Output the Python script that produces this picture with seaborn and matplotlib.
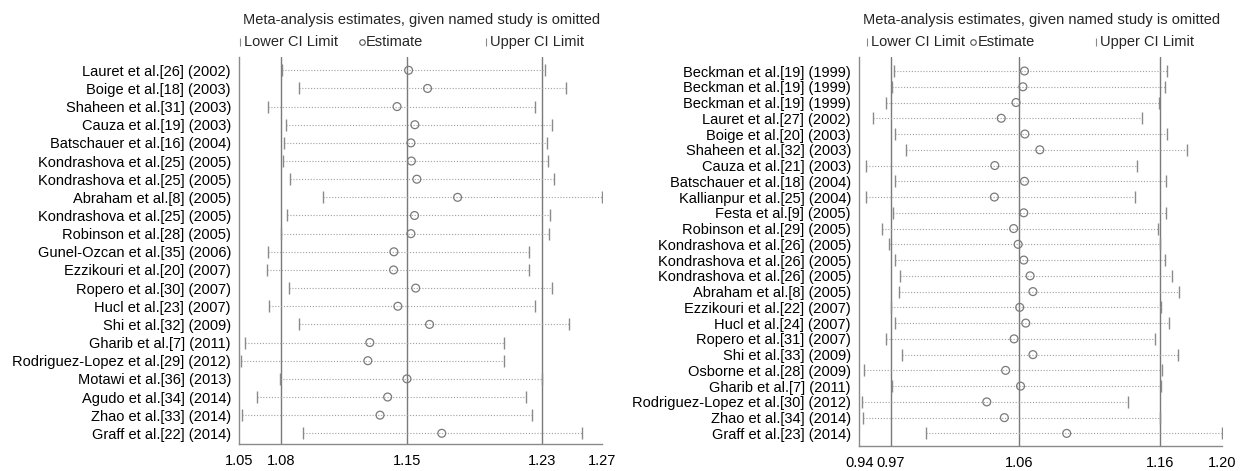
import numpy as np
import pandas as pd
import matplotlib
matplotlib.use("Agg")
import matplotlib.pyplot as plt
import seaborn as sns

# left panel: studies and influence estimates
left_labels = ["Lauret et al.[26] (2002)", "Boige et al.[18] (2003)", "Shaheen et al.[31] (2003)",
               "Cauza et al.[19] (2003)", "Batschauer et al.[16] (2004)", "Kondrashova et al.[25] (2005)",
               "Kondrashova et al.[25] (2005)", "Abraham et al.[8] (2005)", "Kondrashova et al.[25] (2005)",
               "Robinson et al.[28] (2005)", "Gunel-Ozcan et al.[35] (2006)", "Ezzikouri et al.[20] (2007)",
               "Ropero et al.[30] (2007)", "Hucl et al.[23] (2007)", "Shi et al.[32] (2009)",
               "Gharib et al.[7] (2011)", "Rodriguez-Lopez et al.[29] (2012)", "Motawi et al.[36] (2013)",
               "Agudo et al.[34] (2014)", "Zhao et al.[33] (2014)", "Graff et al.[22] (2014)"]
left_lower = [1.0806, 1.0914, 1.0723, 1.0835, 1.0818, 1.0816, 1.0859, 1.1056, 1.0840, 1.0804, 1.0725,
              1.0718, 1.0850, 1.0732, 1.0914, 1.0586, 1.0560, 1.0799, 1.0660, 1.0567, 1.0938]
left_est = [1.1576, 1.1691, 1.1506, 1.1614, 1.1590, 1.1593, 1.1626, 1.1873, 1.1612, 1.1590, 1.1487,
            1.1485, 1.1619, 1.1511, 1.1703, 1.1341, 1.1329, 1.1566, 1.1449, 1.1403, 1.1777]
left_upper = [1.2403, 1.2528, 1.2345, 1.2448, 1.2412, 1.2422, 1.2456, 1.2750, 1.2434, 1.2427, 1.2305,
              1.2305, 1.2446, 1.2343, 1.2547, 1.2156, 1.2156, 1.2384, 1.2288, 1.2326, 1.2626]
left_ticks = [1.055, 1.0802, 1.1569, 1.2386, 1.275]
left_ticklabels = ["1.05", "1.08", "1.15", "1.23", "1.27"]

# right panel
right_labels = ["Beckman et al.[19] (1999)", "Beckman et al.[19] (1999)", "Beckman et al.[19] (1999)",
                "Lauret et al.[27] (2002)", "Boige et al.[20] (2003)", "Shaheen et al.[32] (2003)",
                "Cauza et al.[21] (2003)", "Batschauer et al.[18] (2004)", "Kallianpur et al.[25] (2004)",
                "Festa et al.[9] (2005)", "Robinson et al.[29] (2005)", "Kondrashova et al.[26] (2005)",
                "Kondrashova et al.[26] (2005)", "Kondrashova et al.[26] (2005)", "Abraham et al.[8] (2005)",
                "Ezzikouri et al.[22] (2007)", "Hucl et al.[24] (2007)", "Ropero et al.[31] (2007)",
                "Shi et al.[33] (2009)", "Osborne et al.[28] (2009)", "Gharib et al.[7] (2011)",
                "Rodriguez-Lopez et al.[30] (2012)", "Zhao et al.[34] (2014)", "Graff et al.[23] (2014)"]
right_lower = [0.9729, 0.9714, 0.9669, 0.9580, 0.9737, 0.9814, 0.9526, 0.9731, 0.9531, 0.9720, 0.9643, 0.9691,
               0.9731, 0.9771, 0.9763, 0.9706, 0.9731, 0.9669, 0.9780, 0.9511, 0.9709, 0.9500, 0.9506, 0.9954]
right_est = [1.0654, 1.0643, 1.0594, 1.0489, 1.0657, 1.0763, 1.0443, 1.0654, 1.0440, 1.0649, 1.0577, 1.0609,
             1.0649, 1.0694, 1.0714, 1.0620, 1.0663, 1.0580, 1.0714, 1.0520, 1.0626, 1.0386, 1.0511, 1.0954]
right_upper = [1.1668, 1.1654, 1.1611, 1.1486, 1.1666, 1.1808, 1.1451, 1.1657, 1.1437, 1.1660, 1.1600, 1.1614,
               1.1654, 1.1706, 1.1754, 1.1623, 1.1680, 1.1580, 1.1743, 1.1631, 1.1623, 1.1388, 1.1620, 1.2060]
right_ticks = [0.948, 0.9703, 1.0617, 1.1619, 1.206]
right_ticklabels = ["0.94", "0.97", "1.06", "1.16", "1.20"]

title_txt = "Meta-analysis estimates, given named study is omitted"

sns.set_style("white")
plt.rcParams['font.family'] = ['Liberation Sans', 'DejaVu Sans']

W, H = 1250, 471
fig = plt.figure(figsize=(12.5, 4.71), dpi=100)

AX_COL = '#8a8a8a'
REF_COL = '#7a7a7a'
DOT_COL = '#a0a0a0'
FS = 10.5


def px_ax(x0, y_top, x1, y_bot):
    return fig.add_axes([x0 / W, 1 - y_bot / H, (x1 - x0) / W, (y_bot - y_top) / H])


def panel(ax, labels, lower, est, upper, ticks, ticklabels, pad_top, pad_bot):
    n = len(labels)
    df = pd.DataFrame({'pos': np.arange(n), 'lower': lower, 'est': est, 'upper': upper})
    for v in ticks[1:4]:
        ax.axvline(v, color=REF_COL, lw=1, zorder=1)
    ax.hlines(df['pos'], df['lower'], df['upper'], colors=DOT_COL,
              linestyles=(0, (1, 1.6)), linewidth=0.8, zorder=2)
    ax.plot(df['lower'], df['pos'], ls='none', marker='|', ms=8, mew=1, color=AX_COL, zorder=3)
    ax.plot(df['upper'], df['pos'], ls='none', marker='|', ms=8, mew=1, color=AX_COL, zorder=3)
    sns.scatterplot(data=df, x='est', y='pos', marker='o', s=32, facecolors='none',
                    edgecolor='#7a7a7a', linewidth=0.9, ax=ax, zorder=4)
    ax.set_xlim(ticks[0], ticks[-1])
    ax.set_ylim(n - 1 + pad_bot, -pad_top)
    ax.set_xticks(ticks, ticklabels)
    ax.set_yticks(df['pos'], labels)
    ax.set_xlabel('')
    ax.set_ylabel('')
    sns.despine(ax=ax)
    for s in ['left', 'bottom']:
        ax.spines[s].set_color(AX_COL)
        ax.spines[s].set_linewidth(1)
    ax.tick_params(axis='x', length=4, width=1, color=AX_COL, labelsize=FS, pad=3, labelcolor='black')
    ax.tick_params(axis='y', length=0, labelsize=FS, pad=6, labelcolor='black')


axL = px_ax(239.3, 57.3, 602.3, 444.3)
panel(axL, left_labels, left_lower, left_est, left_upper, left_ticks, left_ticklabels, 0.715, 0.605)

axR = px_ax(859.3, 57.3, 1222.3, 446.0)
panel(axR, right_labels, right_lower, right_est, right_upper, right_ticks, right_ticklabels, 0.87, 0.80)


def header(x_title, x_bar1, x_circ, x_bar2):
    fig.text(x_title / W, 1 - 20 / H, title_txt, fontsize=FS, ha='left', va='center')
    yl = 1 - 42 / H
    for xb, txt in [(x_bar1, "Lower CI Limit"), (x_bar2, "Upper CI Limit")]:
        fig.add_artist(plt.Line2D([xb / W], [yl], marker='|', ms=6, mew=0.8, color=AX_COL, ls='none'))
        fig.text((xb + 4) / W, yl, txt, fontsize=FS, ha='left', va='center')
    fig.add_artist(plt.Line2D([x_circ / W], [yl], marker='o', ms=4, mew=0.8, mfc='none',
                              mec='#555555', ls='none'))
    fig.text((x_circ + 4.5) / W, yl, "Estimate", fontsize=FS, ha='left', va='center')


header(243.3, 240.5, 361.7, 485.5)
header(863.3, 867.3, 973.0, 1095.5)

fig.savefig("out.png", dpi=100)
